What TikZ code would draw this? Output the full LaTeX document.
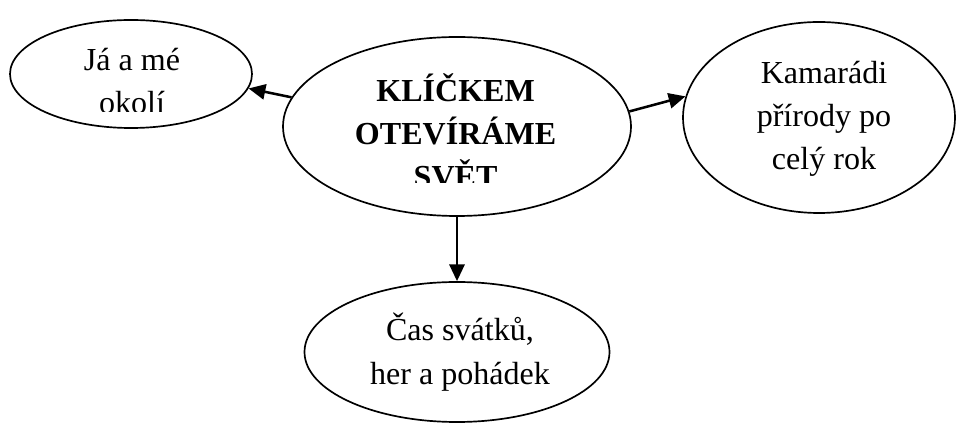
\documentclass[tikz,border=0pt]{standalone}
\usepackage{fontspec}
\setmainfont{Liberation Serif}
\usetikzlibrary{arrows.meta,shapes.geometric}
\tikzset{
	bubble/.style={draw, ellipse, line width=1.2pt, inner sep=0pt},
	bubbletext/.style={align=center, font=\fontsize{22.8}{30.6}\selectfont, anchor=base, inner sep=0pt},
	link/.style={line width=1.8pt, -{Triangle[length=0.42cm, width=0.38cm]}}
}

\begin{document}
\begin{tikzpicture}
	%%%%% START %%%%%
	\useasboundingbox (0, 0) rectangle (23.9, -10.575);

	\node[bubble, minimum width=6.05cm, minimum height=2.7cm] (ja) at (3.275, -1.85) {};
	\node[bubble, minimum width=8.7cm, minimum height=4.475cm] (klic) at (11.425, -3.1625) {};
	\node[bubble, minimum width=6.8cm, minimum height=4.775cm] (kam) at (20.475, -2.9375) {};
	\node[bubble, minimum width=7.625cm, minimum height=3.5cm] (cas) at (11.425, -8.8) {};

	% texts, the two cut ones clipped
	\begin{scope}
		\clip (0, 0) rectangle (7, -2.79);
		\node[bubbletext] (jatext) at (3.3, -2.84) {Já a mé\\okolí};
	\end{scope}
	\begin{scope}
		\clip (7, 0) rectangle (16, -4.575);
		\node[bubbletext, font=\fontsize{22.8}{30.6}\selectfont\bfseries] (klictext) at (11.39, -4.7) {KLÍČKEM\\OTEVÍRÁME\\SVĚT};
	\end{scope}
	\node[bubbletext] (kamtext) at (20.6, -4.25) {Kamarádi\\přírody po\\celý rok};
	\node[bubbletext] (castext) at (11.5, -9.6) {Čas svátků,\\her a pohádek};

	\draw[link] (klic.170) -- (ja.-7);
	\draw[link] (klic.5) -- (kam.171);
	\draw[link] (klic.south) -- (cas.north);
	%%%%% END %%%%%
\end{tikzpicture}
\end{document}
